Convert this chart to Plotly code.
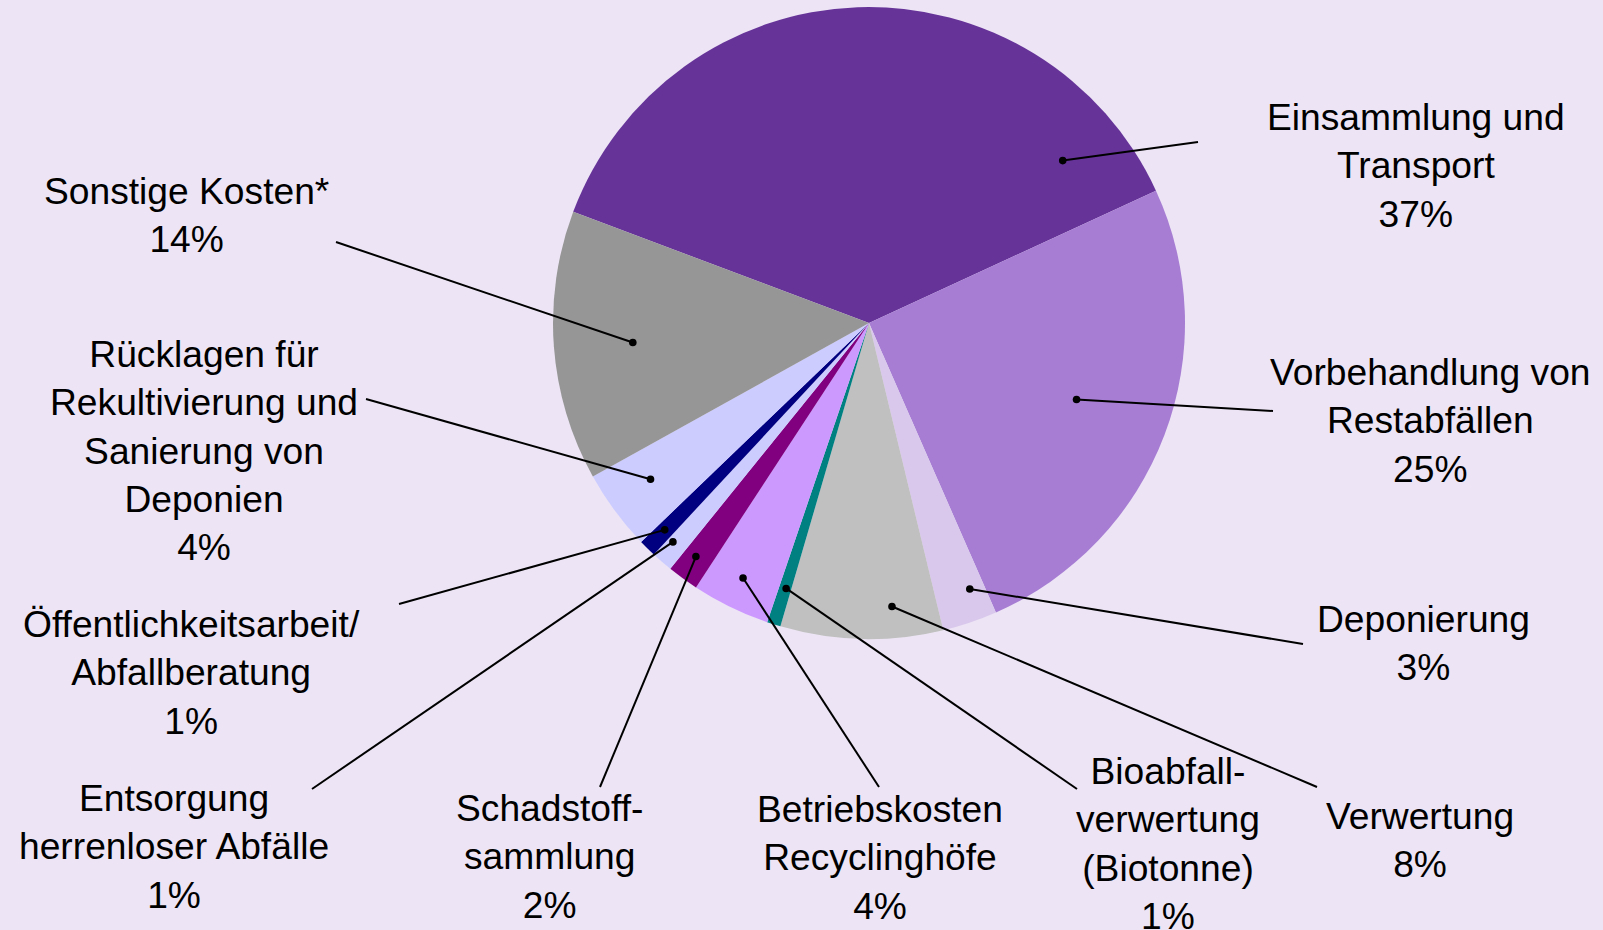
import math
import plotly.graph_objects as go

# ---------------- data ----------------
categories = [
    "Einsammlung und<br>Transport",
    "Vorbehandlung von<br>Restabfällen",
    "Deponierung",
    "Verwertung",
    "Bioabfall-<br>verwertung<br>(Biotonne)",
    "Betriebskosten<br>Recyclinghöfe",
    "Schadstoff-<br>sammlung",
    "Entsorgung<br>herrenloser Abfälle",
    "Öffentlichkeitsarbeit/<br>Abfallberatung",
    "Rücklagen für<br>Rekultivierung und<br>Sanierung von<br>Deponien",
    "Sonstige Kosten*",
]
shares = [37.4, 25.3, 2.8, 8.3, 0.7, 4.0, 1.6, 1.1, 0.9, 4.1, 13.8]

# ---------------- style / layout ----------------
colors = ["#663399", "#A67DD3", "#D9C8EC", "#C0C0C0", "#008080", "#CC99FF",
          "#800080", "#CCCCFF", "#000080", "#CCCCFF", "#969696"]
BG = "#EDE5F5"
FIG_W, FIG_H = 1603, 930
CX, CY, R = 869, 323, 316          # pie centre / radius in pixels
ROTATION = -69.4                    # start angle of first slice (deg, clockwise from 12 o'clock)
FONT = dict(family="Liberation Sans, Arial, sans-serif", size=37.2, color="black")

# label block centres (pixels)
label_pos = [(1416, 165), (1430, 421), (1423, 643), (1420, 840), (1168, 843),
             (880, 857), (549, 856), (174, 846), (191, 672), (204, 451), (186, 215)]
# label-side end of leader lines (pixels)
line_end = [(1198, 142), (1273, 411), (1303, 644), (1317, 787), (1077, 789),
            (879, 787), (600, 787), (312, 789), (399, 604), (366, 399), (336, 242)]
# anchor inside slice: fraction along slice span, fraction of radius
anchor_frac = [0.887, 0.494, 0.29, 0.30, 0.42, 0.52, 0.58, 0.73, 0.53, 0.56, 0.49]
anchor_rad = [0.80, 0.70, 0.90, 0.90, 0.88, 0.90, 0.92, 0.93, 0.92, 0.85, 0.75]


def px2paper(x, y):
    return x / FIG_W, 1 - y / FIG_H


total = sum(shares)
fig = go.Figure()
fig.add_trace(go.Pie(
    labels=[c.replace("<br>", " ") for c in categories],
    values=shares,
    sort=False,
    direction="clockwise",
    rotation=ROTATION,
    marker=dict(colors=colors, line=dict(width=0)),
    textinfo="none",
    hoverinfo="label+percent",
    showlegend=False,
    domain=dict(x=[(CX - R) / FIG_W, (CX + R) / FIG_W],
                y=[1 - (CY + R) / FIG_H, 1 - (CY - R) / FIG_H]),
))

shapes = []
annotations = []
start = ROTATION
for i, v in enumerate(shares):
    span = v / total * 360
    a = math.radians(start + anchor_frac[i] * span)
    start += span
    ax_px = CX + anchor_rad[i] * R * math.sin(a)
    ay_px = CY - anchor_rad[i] * R * math.cos(a)
    x0, y0 = px2paper(ax_px, ay_px)
    x1, y1 = px2paper(*line_end[i])
    shapes.append(dict(type="line", xref="paper", yref="paper", x0=x0, y0=y0, x1=x1, y1=y1,
                       line=dict(color="black", width=2), layer="above"))
    shapes.append(dict(type="circle", xref="paper", yref="paper", xsizemode="pixel",
                       ysizemode="pixel", xanchor=x0, yanchor=y0, x0=-3.8, x1=3.8,
                       y0=-3.8, y1=3.8, fillcolor="black", line=dict(width=0), layer="above"))
    lx, ly = px2paper(*label_pos[i])
    pct = f"{round(v / total * 100):.0f}%"
    annotations.append(dict(text=f"{categories[i]}<br>{pct}", x=lx, y=ly, xref="paper",
                            yref="paper", xanchor="center", yanchor="middle",
                            showarrow=False, align="center", font=FONT))

fig.update_layout(
    width=FIG_W, height=FIG_H,
    margin=dict(l=0, r=0, t=0, b=0),
    paper_bgcolor=BG, plot_bgcolor=BG,
    shapes=shapes, annotations=annotations,
    showlegend=False,
)

fig.write_html("out.html", config={"displayModeBar": False},
               post_script="document.body.style.margin='0';document.body.style.overflow='hidden';")
